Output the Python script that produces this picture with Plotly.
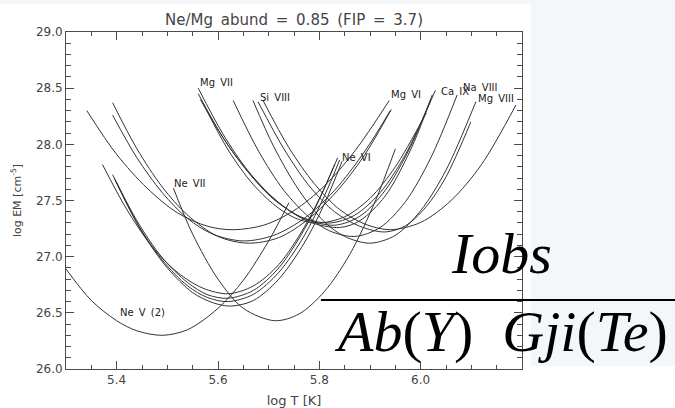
import plotly.graph_objects as go

# ---------------- data ----------------
x_range = [5.3, 6.2]
y_range = [26.0, 29.0]
x_ticks = [5.4, 5.6, 5.8, 6.0]
y_ticks = [26.0, 26.5, 27.0, 27.5, 28.0, 28.5, 29.0]

ne5_x = [5.30, 5.35, 5.40, 5.44, 5.49, 5.54, 5.60, 5.65, 5.70, 5.74]
ne5_y = [26.89, 26.61, 26.43, 26.34, 26.30, 26.35, 26.54, 26.79, 27.14, 27.48]

ne7_x = [5.512, 5.55, 5.60, 5.65, 5.712, 5.76, 5.81, 5.86, 5.91, 5.95]
ne7_y = [27.61, 27.20, 26.80, 26.54, 26.43, 26.49, 26.69, 27.02, 27.49, 27.96]

ne6a_x = [5.372, 5.42, 5.47, 5.52, 5.57, 5.62, 5.67, 5.72, 5.77, 5.81, 5.836]
ne6a_y = [27.82, 27.42, 27.09, 26.86, 26.72, 26.67, 26.74, 26.93, 27.26, 27.61, 27.88]
ne6b_x = [5.392, 5.44, 5.49, 5.54, 5.58, 5.62, 5.67, 5.72, 5.77, 5.80, 5.83]
ne6b_y = [27.73, 27.32, 26.99, 26.77, 26.66, 26.63, 26.70, 26.90, 27.24, 27.51, 27.82]
ne6c_x = [5.395, 5.44, 5.49, 5.54, 5.58, 5.62, 5.67, 5.72, 5.77, 5.81, 5.84]
ne6c_y = [27.70, 27.30, 26.97, 26.74, 26.635, 26.60, 26.665, 26.86, 27.185, 27.54, 27.86]
ne6d_x = [5.40, 5.45, 5.50, 5.55, 5.59, 5.625, 5.67, 5.72, 5.77, 5.81, 5.845]
ne6d_y = [27.66, 27.22, 26.90, 26.68, 26.59, 26.56, 26.61, 26.80, 27.12, 27.47, 27.85]

mg6a_x = [5.341, 5.40, 5.46, 5.52, 5.58, 5.63, 5.69, 5.75, 5.81, 5.87, 5.938]
mg6a_y = [28.30, 27.91, 27.61, 27.39, 27.27, 27.24, 27.28, 27.41, 27.63, 27.94, 28.39]
mg6b_x = [5.392, 5.44, 5.49, 5.54, 5.59, 5.65, 5.71, 5.77, 5.83, 5.89, 5.94]
mg6b_y = [28.26, 27.88, 27.57, 27.34, 27.20, 27.14, 27.19, 27.34, 27.59, 27.94, 28.30]
mg6c_x = [5.392, 5.44, 5.49, 5.54, 5.60, 5.66, 5.72, 5.78, 5.84, 5.89, 5.942]
mg6c_y = [28.37, 27.96, 27.62, 27.37, 27.18, 27.12, 27.17, 27.34, 27.61, 27.91, 28.31]

mg7a_x = [5.561, 5.61, 5.66, 5.71, 5.76, 5.82, 5.87, 5.92, 5.97, 6.029]
mg7a_y = [28.50, 28.09, 27.76, 27.52, 27.36, 27.30, 27.37, 27.57, 27.91, 28.48]
mg7b_x = [5.561, 5.61, 5.66, 5.71, 5.77, 5.83, 5.88, 5.93, 5.98, 6.023]
mg7b_y = [28.45, 28.06, 27.75, 27.51, 27.34, 27.28, 27.36, 27.59, 27.98, 28.44]
mg7c_x = [5.565, 5.62, 5.67, 5.72, 5.78, 5.84, 5.88, 5.93, 5.98, 6.02]
mg7c_y = [28.40, 27.99, 27.70, 27.48, 27.31, 27.26, 27.32, 27.54, 27.95, 28.40]
mg7d_x = [5.57, 5.62, 5.67, 5.72, 5.76, 5.80, 5.85, 5.90, 5.95, 6.011]
mg7d_y = [28.37, 27.95, 27.64, 27.43, 27.33, 27.30, 27.355, 27.52, 27.80, 28.28]

u_x = [5.63, 5.68, 5.73, 5.78, 5.82, 5.87, 5.92, 5.97, 6.02, 6.072]
u_y = [28.39, 27.94, 27.59, 27.35, 27.23, 27.18, 27.26, 27.49, 27.88, 28.44]

si8a_x = [5.669, 5.71, 5.76, 5.81, 5.85, 5.90, 5.95, 6.00, 6.05, 6.109]
si8a_y = [28.39, 27.98, 27.59, 27.31, 27.18, 27.12, 27.19, 27.41, 27.77, 28.38]
si8b_x = [5.679, 5.73, 5.78, 5.83, 5.88, 5.93, 5.97, 6.01, 6.05, 6.099]
si8b_y = [28.38, 27.96, 27.63, 27.40, 27.27, 27.22, 27.275, 27.44, 27.71, 28.20]
si8c_x = [5.689, 5.74, 5.79, 5.84, 5.89, 5.94, 6.00, 6.06, 6.12, 6.188]
si8c_y = [28.39, 27.97, 27.65, 27.42, 27.29, 27.24, 27.305, 27.50, 27.82, 28.35]

label_text = ["Mg\u2009 VII", "Si\u2009 VIII", "Ne\u2009 VII", "Ne\u2009 V\u2009 (2)", "Ne\u2009 VI",
              "Mg\u2009 VI", "Ca\u2009 IX", "Na\u2009 VIII", "Mg\u2009 VIII"]
label_x = [5.561, 5.679, 5.51, 5.402, 5.84, 5.938, 6.037, 6.08, 6.109]
label_y = [28.55, 28.42, 27.65, 26.50, 27.88, 28.44, 28.47, 28.51, 28.41]

title_text = "Ne/Mg \u2009abund \u2009= \u20090.85 \u2009(FIP \u2009= \u20093.7)"

curves = [
    (ne5_x, ne5_y), (ne7_x, ne7_y),
    (ne6a_x, ne6a_y), (ne6b_x, ne6b_y), (ne6c_x, ne6c_y), (ne6d_x, ne6d_y),
    (mg6a_x, mg6a_y), (mg6b_x, mg6b_y), (mg6c_x, mg6c_y),
    (mg7a_x, mg7a_y), (mg7b_x, mg7b_y), (mg7c_x, mg7c_y), (mg7d_x, mg7d_y),
    (u_x, u_y),
    (si8a_x, si8a_y), (si8b_x, si8b_y), (si8c_x, si8c_y),
]

# ---------------- figure ----------------
AX = "#4a4a4a"
FONT = "DejaVu Sans"
SERIF = "Liberation Serif"

fig = go.Figure()
for cx, cy in curves:
    fig.add_trace(go.Scatter(
        x=cx, y=cy, mode="lines",
        line=dict(color="#333333", width=1, shape="spline", smoothing=0.9),
        hoverinfo="skip", showlegend=False))

for t, lx, ly in zip(label_text, label_x, label_y):
    fig.add_annotation(x=lx, y=ly, text=t, showarrow=False,
                       xanchor="left", yanchor="middle",
                       font=dict(family=FONT, size=10, color="#222222"))

axis_common = dict(
    showgrid=False, zeroline=False, showline=True, linecolor=AX, linewidth=1,
    mirror="allticks", ticks="inside", tickcolor=AX, tickwidth=1, automargin=False,
    tickfont=dict(family=FONT, size=12, color="#444444"),
)

fig.update_xaxes(range=x_range, tickvals=x_ticks, tickformat=".1f", ticklen=8,
                 minor=dict(dtick=0.05, tick0=5.3, ticks="inside", ticklen=4,
                            tickcolor=AX, showgrid=False),
                 title=dict(text="log T [K]", font=dict(family=FONT, size=13, color="#444444"),
                            standoff=10),
                 **axis_common)
fig.update_yaxes(range=y_range, tickvals=y_ticks, tickformat=".1f", ticklen=8,
                 minor=dict(dtick=0.1, tick0=26.0, ticks="inside", ticklen=5,
                            tickcolor=AX, showgrid=False),
                 title=dict(text="log EM [cm<sup>-5</sup>]",
                            font=dict(family=FONT, size=11, color="#444444"), standoff=12),
                 **axis_common)

# light slide background pieces outside the chart image
fig.add_shape(type="rect", xref="paper", yref="paper", x0=1.0197, x1=1.4, y0=0.009, y1=1.2,
              fillcolor="#f3f7fa", line=dict(width=0), layer="below")
fig.add_shape(type="rect", xref="paper", yref="paper", x0=-0.2, x1=1.4, y0=1.083, y1=1.2,
              fillcolor="#f3f7fa", line=dict(width=0), layer="below")

# formula overlay
fig.add_annotation(xref="paper", yref="paper", x=0.954, y=0.344, text="<i>Iobs</i>",
                   showarrow=False, xanchor="center", yanchor="middle",
                   font=dict(family=SERIF, size=58, color="black"))
fig.add_shape(type="line", xref="paper", yref="paper", x0=0.559, x1=1.34, y0=0.2047, y1=0.2047,
              line=dict(color="black", width=2))
fig.add_annotation(xref="paper", yref="paper", x=0.955, y=0.112,
                   text="<i>Ab</i>(<i>Y</i>)&nbsp;&nbsp;<i>Gji</i>(<i>Te</i>)",
                   showarrow=False, xanchor="center", yanchor="middle",
                   font=dict(family=SERIF, size=58, color="black"))

fig.update_layout(
    width=675, height=408,
    margin=dict(l=66, r=153, t=32, b=39, autoexpand=False),
    paper_bgcolor="white", plot_bgcolor="white",
    title=dict(text=title_text, x=0.5, xref="paper",
               y=1 - 20 / 408, yanchor="middle",
               font=dict(family=FONT, size=15, color="#444444")),
)

fig.write_html("out.html")
